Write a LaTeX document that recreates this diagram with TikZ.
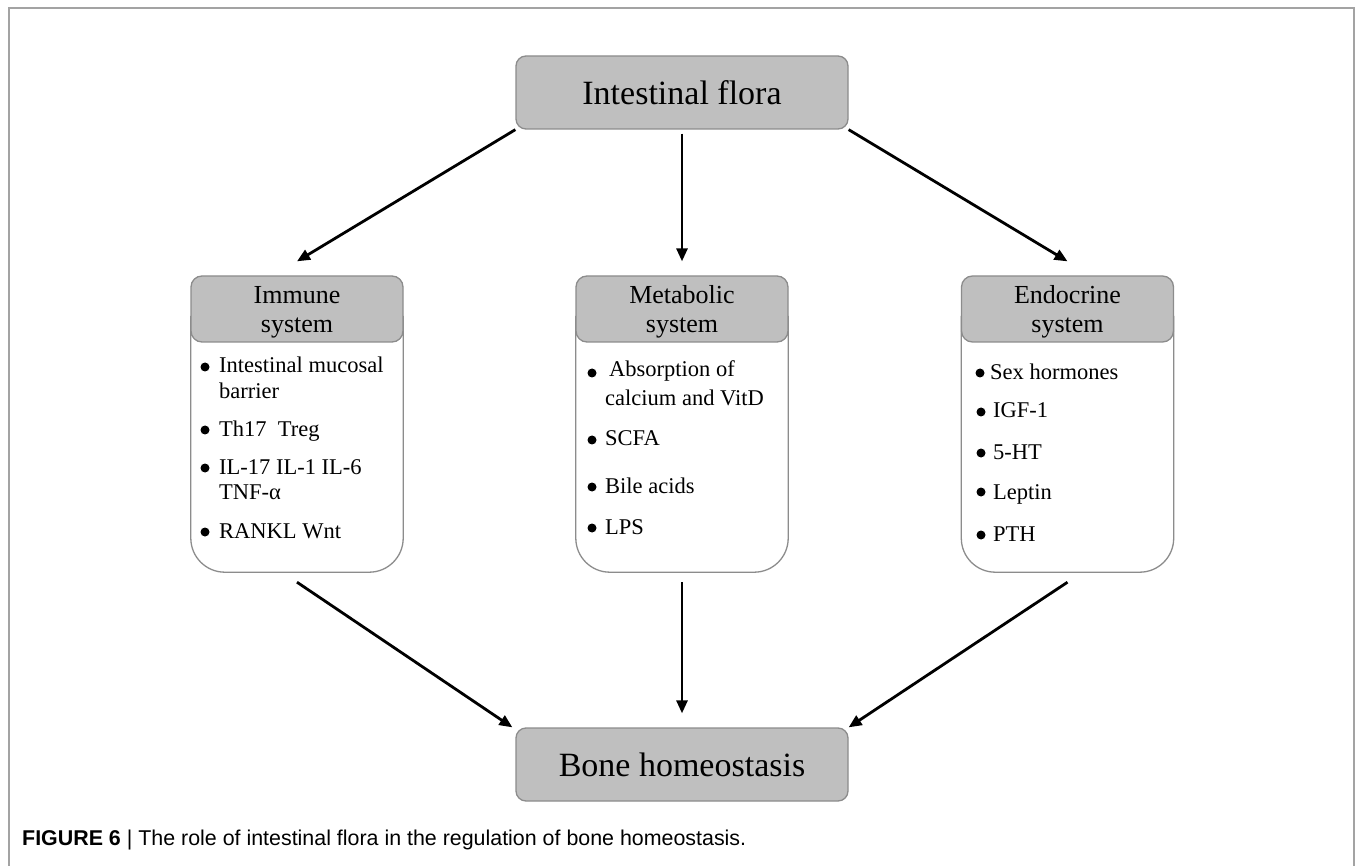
\documentclass[tikz,border=0pt]{standalone}
\usepackage{fontspec}
\setmainfont{Liberation Serif}
\newfontfamily\capfont{Liberation Sans}
\usetikzlibrary{arrows.meta}
\definecolor{boxgray}{HTML}{BFBFBF}
\definecolor{edgegray}{HTML}{8C8C8C}
\definecolor{framegray}{HTML}{A3A3A3}
\begin{document}
\begin{tikzpicture}[x=1pt,y=-1pt,
  mainbox/.style={draw=edgegray,line width=1.3pt,fill=boxgray,rounded corners=10pt,minimum width=332pt,minimum height=73pt,inner sep=0pt,font=\fontsize{34}{40}\selectfont},
  headbox/.style={draw=edgegray,line width=1.3pt,fill=boxgray,rounded corners=11pt,minimum width=212pt,minimum height=66pt,inner sep=0pt},
  headtext/.style={align=center,inner sep=0pt,font=\fontsize{26}{29}\selectfont},
  bodybox/.style={minimum width=212pt,minimum height=296pt,inner sep=0pt},
  bodyline/.style={draw=edgegray,line width=1.3pt,rounded corners=34pt},
  item/.style={anchor=base west,inner sep=0pt,font=\fontsize{22.5}{26}\selectfont},
  dot/.style={circle,fill=black,inner sep=0pt,minimum size=9pt},
  arr/.style={line width=2.8pt,-{Triangle[length=13pt,width=11pt]}},
]
\useasboundingbox (0,0) rectangle (1355,866);
\draw[framegray,line width=2pt] (9,866) -- (9,8) -- (1354,8) -- (1354,866);

% main boxes
\node[mainbox] (flora) at (682,92.5) {Intestinal flora};
\node[mainbox] (bone) at (682,764.5) {Bone homeostasis};

% system bodies
\node[bodybox] (imm) at (297,424) {};
\node[bodybox] (met) at (682,424) {};
\node[bodybox] (endo) at (1067.5,424) {};
\draw[bodyline] ([yshift=-40pt]imm.north west) -- (imm.south west) -- (imm.south east) -- ([yshift=-40pt]imm.north east);
\draw[bodyline] ([yshift=-40pt]met.north west) -- (met.south west) -- (met.south east) -- ([yshift=-40pt]met.north east);
\draw[bodyline] ([yshift=-40pt]endo.north west) -- (endo.south west) -- (endo.south east) -- ([yshift=-40pt]endo.north east);

% headers
\node[headbox] (immh) at (297,309) {};
\node[headbox] (meth) at (682,309) {};
\node[headbox] (endoh) at (1067.5,309) {};
\node[headtext] (immt) at (297,312) {Immune\\system};
\node[headtext] (mett) at (682,312) {Metabolic\\system};
\node[headtext] (endot) at (1067.5,312) {Endocrine\\system};

% immune items
\node[dot] (id1) at (205,367) {};
\node[item] (i1a) at (219,373) {Intestinal mucosal};
\node[item] (i1b) at (219,399) {barrier};
\node[dot] (id2) at (205,430) {};
\node[item] (i2) at (219,436) {Th17\ \ Treg};
\node[dot] (id3) at (205,468) {};
\node[item] (i3a) at (219,474) {IL-17 IL-1 IL-6};
\node[item] (i3b) at (219,499) {TNF-α};
\node[dot] (id4) at (205,532) {};
\node[item] (i4) at (219,538) {RANKL Wnt};

% metabolic items
\node[dot] (md1) at (592,373) {};
\node[item] (m1a) at (609,377) {Absorption of};
\node[item] (m1b) at (605,406) {calcium and VitD};
\node[dot] (md2) at (592,440) {};
\node[item] (m2) at (605,446) {SCFA};
\node[dot] (md3) at (592,487) {};
\node[item] (m3) at (605,493) {Bile acids};
\node[dot] (md4) at (592,528) {};
\node[item] (m4) at (605,534) {LPS};

% endocrine items
\node[dot] (ed1) at (980,373) {};
\node[item] (e1) at (990,380) {Sex hormones};
\node[dot] (ed2) at (981,412) {};
\node[item] (e2) at (993,418) {IGF-1};
\node[dot] (ed3) at (981,453) {};
\node[item] (e3) at (993,459) {5-HT};
\node[dot] (ed4) at (981,492) {};
\node[item] (e4) at (993,499) {Leptin};
\node[dot] (ed5) at (981,535) {};
\node[item] (e5) at (993,541) {PTH};

% arrows
\draw[arr] (flora.south west) -- ([yshift=14pt]immh.north);
\draw[arr] ([yshift=-4pt]flora.south) -- ([yshift=14pt]meth.north);
\draw[arr] (flora.south east) -- ([yshift=14pt]endoh.north);
\draw[arr] ([yshift=-10pt]imm.south) -- ([xshift=-3pt]bone.north west);
\draw[arr] ([yshift=-10pt]met.south) -- ([yshift=14pt]bone.north);
\draw[arr] ([yshift=-10pt]endo.south) -- (bone.north east);

% caption
\node[anchor=base west,inner sep=0pt,font=\capfont\fontsize{21.4}{25}\selectfont] (cap) at (22,845) {\textbf{FIGURE 6} | The role of intestinal flora in the regulation of bone homeostasis.};
\end{tikzpicture}
\end{document}
